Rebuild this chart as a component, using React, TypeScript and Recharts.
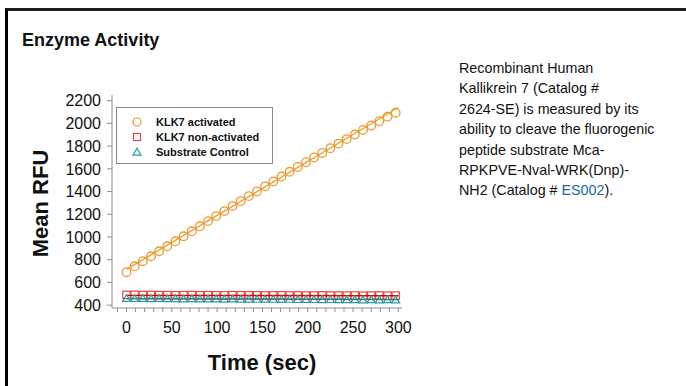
import { ComposedChart, Scatter, XAxis, YAxis, Legend } from "recharts";

// sample times (sec)
const times = [
  0, 9, 18, 27, 36, 45, 54, 63, 72, 81, 90, 99, 108, 117, 126, 135, 144,
  153, 162, 171, 180, 189, 198, 207, 216, 225, 234, 243, 252, 261, 270, 279,
  288, 297,
];

const klk7Activated = [
  690, 742, 787, 830, 874, 918, 962, 1006, 1050, 1094, 1140, 1184, 1228,
  1272, 1316, 1360, 1402, 1446, 1489, 1532, 1574, 1616, 1658, 1700, 1740,
  1782, 1822, 1862, 1902, 1942, 1982, 2020, 2058, 2094,
];

const klk7NonActivated = [
  490, 491, 489, 490, 488, 489, 487, 488, 489, 487, 488, 487, 486, 488, 487,
  486, 487, 485, 486, 487, 485, 486, 484, 485, 486, 484, 485, 484, 485, 483,
  484, 485, 483, 484,
];

const substrateControl = [
  460, 459, 460, 458, 459, 457, 458, 456, 457, 456, 455, 456, 454, 455, 453,
  454, 452, 453, 452, 451, 452, 450, 451, 450, 449, 450, 449, 448, 449, 447,
  448, 447, 448, 447,
];

// fitted trend lines, endpoints
const fitTimes = [0, 300];
const fitActivated = [715, 2140];
const fitNonActivated = [487, 483];
const fitSubstrate = [457, 449];

const xTicks = [
  -10, 0, 10, 20, 30, 40, 50, 60, 70, 80, 90, 100, 110, 120, 130, 140, 150,
  160, 170, 180, 190, 200, 210, 220, 230, 240, 250, 260, 270, 280, 290, 300,
];
const yTicks = [400, 600, 800, 1000, 1200, 1400, 1600, 1800, 2000, 2200];

const ORANGE = "#EC9A2E";
const RED = "#E2474B";
const TEAL = "#2F9A98";
const FONT = "'Liberation Sans', Arial, sans-serif";

const toPoints = (ts: number[], vs: number[]) =>
  ts.map((t, i) => ({ t, v: vs[i] }));

const activatedData = toPoints(times, klk7Activated);
const nonActivatedData = toPoints(times, klk7NonActivated);
const substrateData = toPoints(times, substrateControl);

const CircleMark = (p: any) => (
  <circle cx={p.cx} cy={p.cy} r={4.3} fill="none" stroke={ORANGE} strokeWidth={1.3} />
);
const SquareMark = (p: any) => (
  <rect x={p.cx - 3.7} y={p.cy - 3.7} width={7.4} height={7.4} fill="none" stroke={RED} strokeWidth={1.2} />
);
const TriMark = (p: any) => (
  <path
    d={`M${p.cx},${p.cy - 3.8}L${p.cx + 4},${p.cy + 3}L${p.cx - 4},${p.cy + 3}Z`}
    fill="none"
    stroke={TEAL}
    strokeWidth={1.2}
  />
);
const NoMark = () => <g />;

const XTick = (p: any) => {
  if (p.payload.value % 50 !== 0) return <g />;
  return (
    <text x={p.x} y={p.y} dy={19} textAnchor="middle" fontSize={16} fontFamily={FONT} fill="#111">
      {p.payload.value}
    </text>
  );
};

const renderLegend = () => {
  const rows = [
    { name: "KLK7 activated", icon: <circle cx={6} cy={6} r={4} fill="none" stroke={ORANGE} strokeWidth={1.2} /> },
    { name: "KLK7 non-activated", icon: <rect x={2.5} y={2.5} width={7} height={7} fill="none" stroke={RED} strokeWidth={1.2} /> },
    { name: "Substrate Control", icon: <path d="M6,2.2L10,9.2L2,9.2Z" fill="none" stroke={TEAL} strokeWidth={1.2} /> },
  ];
  return (
    <div
      style={{
        width: 157,
        height: 57,
        boxSizing: "border-box",
        border: "1px solid #8a8a8a",
        background: "#fff",
        paddingTop: 7,
      }}
    >
      {rows.map((r) => (
        <div key={r.name} style={{ display: "flex", alignItems: "center", height: 14.7 }}>
          <svg width={12} height={12} style={{ marginLeft: 14, marginRight: 13 }}>
            {r.icon}
          </svg>
          <span style={{ fontFamily: FONT, fontWeight: "bold", fontSize: 11, color: "#111" }}>{r.name}</span>
        </div>
      ))}
    </div>
  );
};

export default function App() {
  return (
    <div style={{ position: "absolute", left: 0, top: 0, width: 686, height: 386, background: "#fff", overflow: "hidden" }}>
      <div
        style={{
          position: "absolute",
          left: 5,
          top: 8,
          width: 700,
          height: 400,
          borderTop: "3px solid #1c1c1c",
          borderLeft: "3px solid #000",
        }}
      />
      <div
        style={{
          position: "absolute",
          left: 22,
          top: 31,
          fontFamily: FONT,
          fontWeight: "bold",
          fontSize: 18,
          lineHeight: "18px",
          color: "#111",
        }}
      >
        Enzyme Activity
      </div>

      <div style={{ position: "absolute", left: 0, top: 0 }}>
        <ComposedChart width={430} height={386} margin={{ top: 95, right: 28, bottom: 0, left: 0 }}>
          <XAxis
            dataKey="t"
            type="number"
            domain={[-16, 304]}
            ticks={xTicks}
            interval={0}
            tickSize={4}
            tickMargin={2}
            tick={XTick}
            stroke="#8c8c8c"
            height={78}
            label={{
              content: (p: any) => (
                <text
                  x={p.viewBox.x + p.viewBox.width / 2 + 5}
                  y={p.viewBox.y + 62}
                  textAnchor="middle"
                  fontFamily={FONT}
                  fontWeight="bold"
                  fontSize={22}
                  fill="#111"
                >
                  Time (sec)
                </text>
              ),
            }}
          />
          <YAxis
            dataKey="v"
            type="number"
            domain={[375, 2250]}
            ticks={yTicks}
            interval={0}
            width={112}
            tickSize={5}
            tickMargin={6}
            stroke="#8c8c8c"
            tick={{ fontSize: 16, fontFamily: FONT, fill: "#111" }}
            label={{
              content: (p: any) => {
                const cx = 40;
                const cy = p.viewBox.y + p.viewBox.height / 2 + 2;
                return (
                  <text
                    x={cx}
                    y={cy}
                    transform={`rotate(-90 ${cx} ${cy})`}
                    textAnchor="middle"
                    dominantBaseline="central"
                    fontFamily={FONT}
                    fontWeight="bold"
                    fontSize={22}
                    fill="#111"
                  >
                    Mean RFU
                  </text>
                );
              },
            }}
          />
          <Legend
            layout="vertical"
            align="center"
            verticalAlign="middle"
            content={renderLegend}
            wrapperStyle={{ position: "absolute", left: 116, top: 107, width: 157, height: 57 }}
          />
          <Scatter data={activatedData} shape={CircleMark} isAnimationActive={false} />
          <Scatter
            data={toPoints(fitTimes, fitActivated)}
            shape={NoMark}
            line={{ stroke: ORANGE, strokeWidth: 1.3 }}
            isAnimationActive={false}
          />
          <Scatter data={nonActivatedData} shape={SquareMark} isAnimationActive={false} />
          <Scatter
            data={toPoints(fitTimes, fitNonActivated)}
            shape={NoMark}
            line={{ stroke: "#E00000", strokeWidth: 1.3 }}
            isAnimationActive={false}
          />
          <Scatter data={substrateData} shape={TriMark} isAnimationActive={false} />
          <Scatter
            data={toPoints(fitTimes, fitSubstrate)}
            shape={NoMark}
            line={{ stroke: "#2A7F7E", strokeWidth: 1.3 }}
            isAnimationActive={false}
          />
        </ComposedChart>
      </div>

      <div
        style={{
          position: "absolute",
          left: 459,
          top: 58,
          fontFamily: FONT,
          fontSize: 14.3,
          lineHeight: "20.4px",
          color: "#111",
          whiteSpace: "nowrap",
        }}
      >
        Recombinant Human
        <br />
        Kallikrein 7 (Catalog #
        <br />
        2624-SE) is measured by its
        <br />
        ability to cleave the fluorogenic
        <br />
        peptide substrate Mca-
        <br />
        RPKPVE-Nval-WRK(Dnp)-
        <br />
        NH2 (Catalog # <span style={{ color: "#1F65A8" }}>ES002</span>).
      </div>
    </div>
  );
}
